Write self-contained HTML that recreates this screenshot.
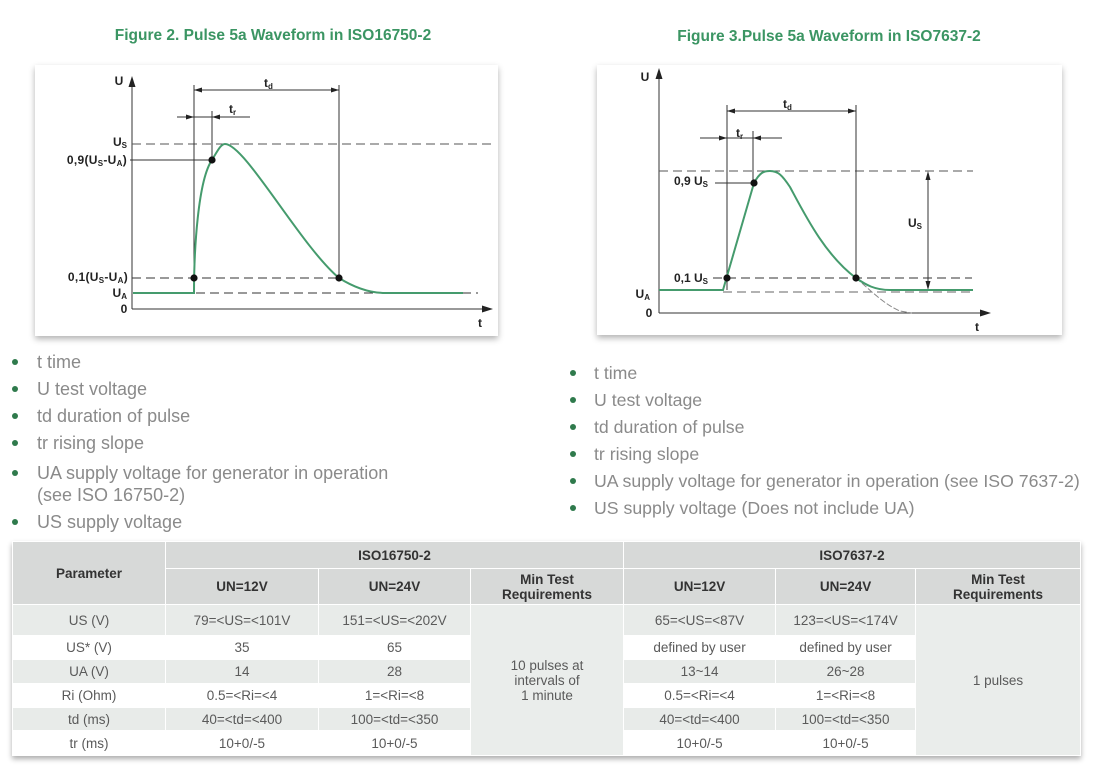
<!DOCTYPE html>
<html>
<head>
<meta charset="utf-8">
<style>
  html,body{margin:0;padding:0;background:#fff;}
  body{width:1099px;height:781px;position:relative;overflow:hidden;font-family:"Liberation Sans",Arial,sans-serif;}
  .box{position:absolute;background:#fff;box-shadow:0 3px 6px rgba(0,0,0,0.3);}
  svg.main{position:absolute;left:0;top:0;}
  .b{position:absolute;font-size:17.7px;line-height:22px;color:#8a8a8a;white-space:nowrap;}
  .l{font-size:18px;}
  .d{position:absolute;width:6px;height:6px;border-radius:50%;background:#2f7a4c;}
  table{position:absolute;left:12px;top:541px;width:1068px;border-collapse:collapse;table-layout:fixed;
        box-shadow:0 3px 5px rgba(0,0,0,0.32);font-size:13.5px;}
  th,td{border:1px solid #fff;padding:0;text-align:center;vertical-align:middle;line-height:15px;}
  th{background:#d7d9d8;color:#333;font-weight:bold;}
  td{color:#5a5a5a;}
  tr.g td{background:#e8ebe9;}
  tr.w td{background:#fff;}
  td.m{background:#eaedeb !important;}
</style>
</head>
<body>

<div class="box" style="left:35px;top:65px;width:463px;height:271px;"></div>
<div class="box" style="left:597px;top:65px;width:465px;height:270px;"></div>

<svg class="main" width="1099" height="345" viewBox="0 0 1099 345" xmlns="http://www.w3.org/2000/svg">
  <g font-family="Liberation Sans, Arial, sans-serif" font-weight="bold" font-size="15.5" fill="#3b9563" text-anchor="middle">
    <text x="273" y="40">Figure 2. Pulse 5a Waveform in ISO16750-2</text>
    <text x="829" y="41">Figure 3.Pulse 5a Waveform in ISO7637-2</text>
  </g>

  <!-- ===== Chart 1 ===== -->
  <g stroke="#333" stroke-width="1" fill="none">
    <line x1="132" y1="309" x2="132" y2="84"/>
    <line x1="132" y1="309" x2="486" y2="309"/>
    <line x1="132" y1="144" x2="495" y2="144" stroke-dasharray="9,5" stroke="#555"/>
    <line x1="132" y1="278" x2="339" y2="278" stroke-dasharray="9,5"/>
    <line x1="196" y1="293" x2="478" y2="293" stroke-dasharray="9,5"/>
    <line x1="130" y1="160" x2="212" y2="160"/>
    <line x1="194" y1="85" x2="194" y2="278"/>
    <line x1="212" y1="111" x2="212" y2="160"/>
    <line x1="339" y1="85" x2="339" y2="278"/>
    <line x1="194" y1="90" x2="339" y2="90"/>
    <line x1="177" y1="117" x2="250" y2="117"/>
  </g>
  <g fill="#222">
    <polygon points="132,76 128.5,87 135.5,87"/>
    <polygon points="493,309 482,305.5 482,312.5"/>
    <polygon points="194,90 202,87.5 202,92.5"/>
    <polygon points="339,90 331,87.5 331,92.5"/>
    <polygon points="194,117 186,114.5 186,119.5"/>
    <polygon points="212,117 220,114.5 220,119.5"/>
  </g>
  <path d="M133,293 L194,293 C194,250 198,180 212,160 C218,150 221,144 225,144 C245,144 300,245 339,278 C355,288 370,293 385,293 L463,293"
        fill="none" stroke="#459b6d" stroke-width="2"/>
  <g fill="#111">
    <circle cx="194" cy="278" r="3.6"/>
    <circle cx="212" cy="160" r="3.6"/>
    <circle cx="339" cy="278" r="3.6"/>
  </g>
  <g font-family="Liberation Sans, Arial, sans-serif" font-weight="bold" font-size="12" fill="#222">
    <text x="119" y="85" text-anchor="middle">U</text>
    <text x="124" y="313" text-anchor="middle">0</text>
    <text x="480" y="327" text-anchor="middle">t</text>
    <text x="264" y="87">t<tspan font-size="8" dy="2">d</tspan></text>
    <text x="229" y="113">t<tspan font-size="8" dy="2">r</tspan></text>
    <text x="127" y="146" text-anchor="end">U<tspan font-size="8" dy="2">S</tspan></text>
    <text x="127" y="164" text-anchor="end" letter-spacing="0.3">0,9(U<tspan font-size="8" dy="2">S</tspan><tspan dy="-2">-U</tspan><tspan font-size="8" dy="2">A</tspan><tspan dy="-2">)</tspan></text>
    <text x="128" y="281" text-anchor="end" letter-spacing="0.3">0,1(U<tspan font-size="8" dy="2">S</tspan><tspan dy="-2">-U</tspan><tspan font-size="8" dy="2">A</tspan><tspan dy="-2">)</tspan></text>
    <text x="127" y="297" text-anchor="end">U<tspan font-size="8" dy="2">A</tspan></text>
  </g>

  <!-- ===== Chart 2 ===== -->
  <g stroke="#333" stroke-width="1" fill="none">
    <line x1="659" y1="313" x2="659" y2="76"/>
    <line x1="659" y1="313" x2="984" y2="313"/>
    <line x1="659" y1="171" x2="973" y2="171" stroke-dasharray="9,5" stroke="#555"/>
    <line x1="713" y1="278" x2="972" y2="278" stroke-dasharray="9,5"/>
    <line x1="723" y1="292" x2="973" y2="292" stroke-dasharray="9,5" stroke="#666"/>
    <line x1="715" y1="183" x2="754" y2="183"/>
    <line x1="727" y1="105" x2="727" y2="290"/>
    <line x1="753" y1="131" x2="753" y2="183"/>
    <line x1="856" y1="105" x2="856" y2="278"/>
    <line x1="727" y1="111" x2="856" y2="111"/>
    <line x1="700" y1="138" x2="782" y2="138"/>
    <line x1="928" y1="173" x2="928" y2="288"/>
  </g>
  <g fill="#222">
    <polygon points="659,68 655.5,79 662.5,79"/>
    <polygon points="991,313 980,309.5 980,316.5"/>
    <polygon points="727,111 735,108.5 735,113.5"/>
    <polygon points="856,111 848,108.5 848,113.5"/>
    <polygon points="727,138 719,135.5 719,140.5"/>
    <polygon points="753,138 761,135.5 761,140.5"/>
    <polygon points="928,171 925.5,180 930.5,180"/>
    <polygon points="928,290 925.5,281 930.5,281"/>
  </g>
  <path d="M856,278 C870,290 885,305 900,311 L912,313" fill="none" stroke="#888" stroke-width="1" stroke-dasharray="6,2"/>
  <path d="M659,290 L723,290 L754,183 C760,172 764,171 770,171 C778,171 782,175 790,187 C805,215 825,255 856,278 C866,285 875,290 890,290 L973,290"
        fill="none" stroke="#459b6d" stroke-width="2"/>
  <g fill="#111">
    <circle cx="727" cy="278" r="3.6"/>
    <circle cx="754" cy="183" r="3.6"/>
    <circle cx="856" cy="278" r="3.6"/>
  </g>
  <g font-family="Liberation Sans, Arial, sans-serif" font-weight="bold" font-size="12" fill="#222">
    <text x="645" y="81" text-anchor="middle">U</text>
    <text x="649" y="317" text-anchor="middle">0</text>
    <text x="977" y="331" text-anchor="middle">t</text>
    <text x="783" y="108">t<tspan font-size="8" dy="2">d</tspan></text>
    <text x="736" y="137">t<tspan font-size="8" dy="2">r</tspan></text>
    <text x="708" y="185" text-anchor="end">0,9 U<tspan font-size="8" dy="2">S</tspan></text>
    <text x="708" y="282" text-anchor="end">0,1 U<tspan font-size="8" dy="2">S</tspan></text>
    <text x="650" y="298" text-anchor="end">U<tspan font-size="8" dy="2">A</tspan></text>
    <text x="908" y="227">U<tspan font-size="8" dy="2">S</tspan></text>
  </g>
</svg>

<!-- Left bullets -->
<div class="d" style="left:12px;top:359px;"></div><div class="b l" style="left:37px;top:351px;">t time</div>
<div class="d" style="left:12px;top:386px;"></div><div class="b l" style="left:37px;top:378px;">U test voltage</div>
<div class="d" style="left:12px;top:413px;"></div><div class="b l" style="left:37px;top:405px;">td duration of pulse</div>
<div class="d" style="left:12px;top:440px;"></div><div class="b l" style="left:37px;top:432px;">tr rising slope</div>
<div class="d" style="left:12px;top:470px;"></div><div class="b l" style="left:37px;top:462px;">UA supply voltage for generator in operation</div>
<div class="b l" style="left:37px;top:484px;">(see ISO 16750-2)</div>
<div class="d" style="left:12px;top:519px;"></div><div class="b l" style="left:37px;top:511px;">US supply voltage</div>

<!-- Right bullets -->
<div class="d" style="left:570px;top:370px;"></div><div class="b" style="left:594px;top:362px;">t time</div>
<div class="d" style="left:570px;top:397px;"></div><div class="b" style="left:594px;top:389px;">U test voltage</div>
<div class="d" style="left:570px;top:424px;"></div><div class="b" style="left:594px;top:416px;">td duration of pulse</div>
<div class="d" style="left:570px;top:451px;"></div><div class="b" style="left:594px;top:443px;">tr rising slope</div>
<div class="d" style="left:570px;top:478px;"></div><div class="b" style="left:594px;top:470px;">UA supply voltage for generator in operation (see ISO 7637-2)</div>
<div class="d" style="left:570px;top:505px;"></div><div class="b" style="left:594px;top:497px;">US supply voltage (Does not include UA)</div>

<table>
  <colgroup>
    <col style="width:153px"><col style="width:153px"><col style="width:152px"><col style="width:153px">
    <col style="width:152px"><col style="width:140px"><col style="width:165px">
  </colgroup>
  <tr style="height:27px">
    <th rowspan="2">Parameter</th>
    <th colspan="3">ISO16750-2</th>
    <th colspan="3">ISO7637-2</th>
  </tr>
  <tr style="height:36px">
    <th>UN=12V</th><th>UN=24V</th><th>Min Test<br>Requirements</th>
    <th>UN=12V</th><th>UN=24V</th><th>Min Test<br>Requirements</th>
  </tr>
  <tr class="g" style="height:31px">
    <td>US (V)</td><td>79=&lt;US=&lt;101V</td><td>151=&lt;US=&lt;202V</td>
    <td class="m" rowspan="6">10 pulses at<br>intervals of<br>1 minute</td>
    <td>65=&lt;US=&lt;87V</td><td>123=&lt;US=&lt;174V</td>
    <td class="m" rowspan="6">1 pulses</td>
  </tr>
  <tr class="w" style="height:24px">
    <td>US* (V)</td><td>35</td><td>65</td><td>defined by user</td><td>defined by user</td>
  </tr>
  <tr class="g" style="height:24px">
    <td>UA (V)</td><td>14</td><td>28</td><td>13~14</td><td>26~28</td>
  </tr>
  <tr class="w" style="height:24px">
    <td>Ri (Ohm)</td><td>0.5=&lt;Ri=&lt;4</td><td>1=&lt;Ri=&lt;8</td><td>0.5=&lt;Ri=&lt;4</td><td>1=&lt;Ri=&lt;8</td>
  </tr>
  <tr class="g" style="height:23px">
    <td>td (ms)</td><td>40=&lt;td=&lt;400</td><td>100=&lt;td=&lt;350</td><td>40=&lt;td=&lt;400</td><td>100=&lt;td=&lt;350</td>
  </tr>
  <tr class="w" style="height:25px">
    <td>tr (ms)</td><td>10+0/-5</td><td>10+0/-5</td><td>10+0/-5</td><td>10+0/-5</td>
  </tr>
</table>

</body>
</html>
